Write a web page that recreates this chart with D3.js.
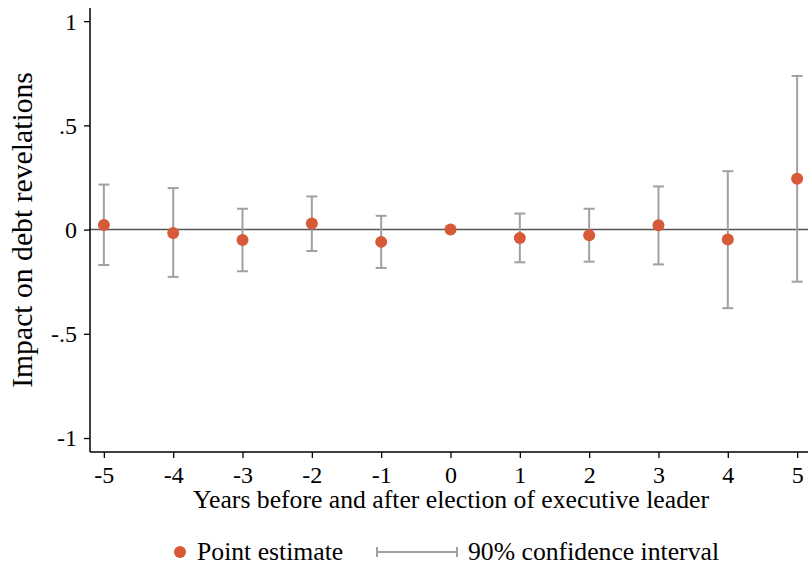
<!DOCTYPE html>
<html>
<head>
<meta charset="utf-8">
<script src="https://cdn.jsdelivr.net/npm/d3@7"></script>
<style>
  body { margin: 0; background: #fff; }
  svg { display: block; font-family: "Liberation Serif", "DejaVu Serif", serif; }
</style>
</head>
<body>
<svg id="chart" width="808" height="563"></svg>
<script>
// years relative to election
const years = [-5, -4, -3, -2, -1, 0, 1, 2, 3, 4, 5];
const estimates = [0.022, -0.016, -0.050, 0.029, -0.059, 0.000, -0.040, -0.027, 0.021, -0.048, 0.244];
const ciLow = [-0.170, -0.227, -0.200, -0.103, -0.184, null, -0.157, -0.154, -0.167, -0.377, -0.250];
const ciHigh = [0.216, 0.199, 0.100, 0.159, 0.066, null, 0.077, 0.100, 0.207, 0.280, 0.737];
const yTicks = [1, 0.5, 0, -0.5, -1];
const yTickLabels = ["1", ".5", "0", "-.5", "-1"];

const svg = d3.select('#chart');
const plotLeft = 90, plotRight = 811, plotTop = 8, plotBottom = 452;

const x = d3.scaleLinear().domain([-5.2, 5.2]).range([plotLeft, plotRight]);
const y = d3.scaleLinear().domain([-1.067, 1.063]).range([plotBottom, plotTop]);

const pointColor = '#d65a38';
const ciColor = '#a09fa3';

// zero reference line
svg.append('line')
    .attr('x1', plotLeft).attr('x2', 808)
    .attr('y1', y(0)).attr('y2', y(0))
    .attr('stroke', '#545454').attr('stroke-width', 1.5);

// confidence intervals
const rows = years.map((yr, i) => ({yr, est: estimates[i], lo: ciLow[i], hi: ciHigh[i]}))
const ci = svg.append('g').attr('stroke', ciColor).attr('stroke-width', 2);
rows.filter(d => d.lo !== null).forEach(d => {
    ci.append('line').attr('x1', x(d.yr)).attr('x2', x(d.yr)).attr('y1', y(d.lo)).attr('y2', y(d.hi));
    ci.append('line').attr('x1', x(d.yr) - 5.5).attr('x2', x(d.yr) + 5.5).attr('y1', y(d.lo)).attr('y2', y(d.lo));
    ci.append('line').attr('x1', x(d.yr) - 5.5).attr('x2', x(d.yr) + 5.5).attr('y1', y(d.hi)).attr('y2', y(d.hi));
});

// point estimates
svg.append('g').selectAll('circle').data(rows).join('circle')
    .attr('cx', d => x(d.yr)).attr('cy', d => y(d.est))
    .attr('r', 6).attr('fill', pointColor);

// axes
const xAxis = svg.append('g').attr('transform', `translate(0,${plotBottom})`)
    .call(d3.axisBottom(x).tickValues(years).tickFormat(d => String(d)).tickSize(6).tickSizeOuter(0));
const yAxis = svg.append('g').attr('transform', `translate(${plotLeft},0)`)
    .call(d3.axisLeft(y).tickValues(yTicks).tickFormat((d, i) => yTickLabels[i]).tickSize(6).tickSizeOuter(0));

[xAxis, yAxis].forEach(g => {
    g.attr('font-family', null).attr('font-size', null);
    g.select('.domain').attr('stroke', '#000').attr('stroke-width', 1.5);
    g.selectAll('.tick line').attr('stroke', '#000').attr('stroke-width', 1.3);
    g.selectAll('.tick text').attr('fill', '#000').style('font-size', '24px');
});
xAxis.select('.domain').attr('d', `M${plotLeft},0H808`);
yAxis.select('.domain').attr('d', `M0,${plotTop}V${plotBottom}`);
xAxis.selectAll('.tick text').attr('y', 31).attr('dy', null);
yAxis.selectAll('.tick text').attr('x', -13).attr('dy', '0.33em');

// axis titles
svg.append('text')
    .attr('x', 451).attr('y', 508)
    .attr('text-anchor', 'middle').style('font-size', '25.7px')
    .text('Years before and after election of executive leader');
svg.append('text')
    .attr('transform', 'translate(32,230) rotate(-90)')
    .attr('text-anchor', 'middle').style('font-size', '29.7px')
    .text('Impact on debt revelations');

// legend
const legend = svg.append('g').style('font-size', '25.7px');
legend.append('circle').attr('cx', 180).attr('cy', 552).attr('r', 6).attr('fill', pointColor);
legend.append('text').attr('x', 197).attr('y', 560).text('Point estimate');
const lg = legend.append('g').attr('stroke', ciColor).attr('stroke-width', 2);
lg.append('line').attr('x1', 377).attr('x2', 457).attr('y1', 552).attr('y2', 552);
lg.append('line').attr('x1', 377).attr('x2', 377).attr('y1', 547).attr('y2', 557);
lg.append('line').attr('x1', 457).attr('x2', 457).attr('y1', 547).attr('y2', 557);
legend.append('text').attr('x', 468).attr('y', 560).text('90% confidence interval');
</script>
</body>
</html>
